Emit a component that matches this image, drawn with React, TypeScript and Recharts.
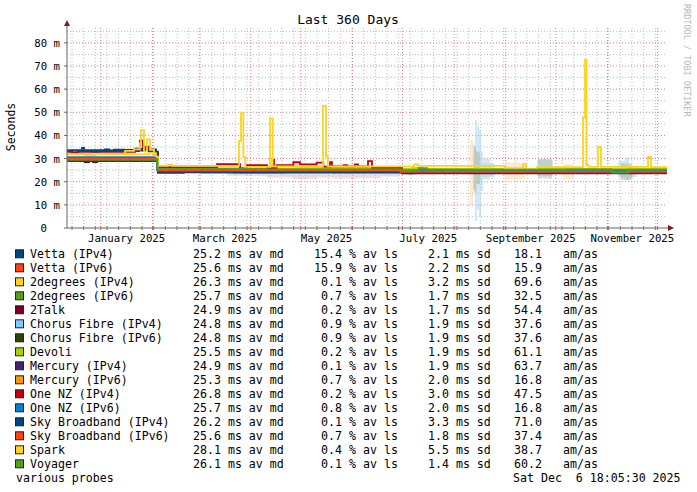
import { Area, CartesianGrid, ComposedChart, Line, XAxis, YAxis } from 'recharts';

type Pt = [number, number];
type Band = [number, number, number];

const FONT = '"DejaVu Sans Mono", monospace';

// x is days since Wed 11 Dec 2024 18:05 (360 days to Sat 6 Dec 2025)
const monthStarts = [20.25, 51.25, 79.25, 110.25, 140.25, 171.25, 201.25, 232.25, 263.25, 293.25, 324.25, 354.25];
const monthLabelDays = [35.75, 94.75, 155.75, 216.75, 278.25, 339.25];
const monthLabels = ['January 2025', 'March 2025', 'May 2025', 'July 2025', 'September 2025', 'November 2025'];
const yTicks = [0, 10, 20, 30, 40, 50, 60, 70, 80];
const yMajor = [10, 20, 30, 40, 50, 60, 70, 80];
const yMinor = [5, 15, 25, 35, 45, 55, 65, 75, 85];

const weekDays: number[] = [];
for (let d = 3; d < 360; d += 7) weekDays.push(d);

// median rtt, ms (step points)
const vettaV4: Pt[] = [[0, 33.6], [9, 34.6], [10.2, 33.6], [22.8, 34.0], [25.2, 33.5], [28.2, 33.9], [34.2, 33.2], [43.2, 33.9], [46.8, 34.8], [48.6, 33.6], [53.4, 33.0], [54.6, 24.6], [96, 24.4], [140, 24.8], [175, 24.3], [201, 23.9], [215, 24.2], [280, 24.0], [320, 24.3], [360, 24.3]];
const vettaV6: Pt[] = [[0, 29.9], [52.8, 30.4], [54.6, 24.9], [100, 25.1], [150, 24.8], [201, 24.4], [240, 24.1], [300, 23.9], [360, 23.9]];
const twoDegV4: Pt[] = [[0, 31.8], [10.8, 31.5], [16.8, 31.8], [49.2, 32.6], [52.2, 31.2], [54.6, 25.9], [110, 25.6], [160, 25.8], [201, 25.4], [360, 25.5]];
const twoDegV6: Pt[] = [[0, 29.5], [54.0, 25.4], [120, 25.2], [201, 25.0], [207, 25.8], [213, 25.1], [290, 25.3], [360, 25.2]];
const twoTalk: Pt[] = [[0, 29.0], [10.8, 28.5], [13.2, 29.0], [15.6, 28.5], [18, 29.0], [54.6, 24.3], [100, 24.0], [160, 24.4], [201, 24.0], [360, 24.1]];
const chorusV4: Pt[] = [[0, 30.3], [54.0, 24.7], [120, 24.9], [201, 24.6], [260, 24.8], [360, 24.7]];
const chorusV6: Pt[] = [[0, 29.1], [52.8, 29.3], [54.6, 24.1], [160, 24.3], [201, 24.1], [360, 24.2]];
const devoli: Pt[] = [[0, 29.7], [54.0, 25.6], [140, 25.8], [201, 25.5], [360, 25.4]];
const mercuryV4: Pt[] = [[0, 29.0], [54.6, 23.8], [70, 24.0], [160, 23.9], [201, 23.6], [360, 23.8]];
const mercuryV6: Pt[] = [[0, 30.0], [54.0, 25.2], [160, 25.4], [201, 24.9], [360, 24.9]];
const oneNzV4: Pt[] = [[0, 32.9], [3, 32.4], [6.6, 32.9], [40.8, 33.4], [42.6, 33.5], [43.8, 37.7], [45.6, 33.8], [46.8, 35.1], [49.2, 33.2], [53.4, 32.0], [54.6, 26.3], [90, 27.6], [103.8, 25.8], [108, 27.2], [120, 25.8], [123.4, 29.4], [124.2, 25.8], [125.8, 27.2], [135.8, 28.4], [139.8, 27.5], [149.8, 28.2], [153.8, 26.5], [157.8, 28.4], [159, 26.6], [166, 27.2], [168, 26.6], [172.8, 27.5], [174.6, 26.6], [180.6, 28.9], [183, 26.0], [201, 24.6], [360, 24.6]];
const oneNzV6: Pt[] = [[0, 30.6], [54.0, 25.0], [150, 25.1], [201, 24.5], [204, 23.6], [208, 25.0], [360, 25.0]];
const skyV4: Pt[] = [[0, 33.3], [15, 33.0], [19.8, 33.4], [30, 33.7], [40.8, 34.3], [45, 33.4], [51, 34.0], [53.4, 32.6], [54.6, 24.4], [80, 24.0], [130, 24.2], [201, 23.7], [222, 24.1], [300, 23.9], [360, 24.0]];
const skyV6: Pt[] = [[0, 29.8], [54.6, 24.8], [200, 24.3], [360, 24.1]];
const spark: Pt[] = [[0, 32.0], [34.8, 33.3], [40.2, 34.0], [43.8, 36.6], [44.4, 42.3], [46.2, 33.0], [48, 38.3], [49.8, 33.8], [52.2, 32.3], [53.4, 30.8], [54.6, 26.8], [60.6, 27.4], [63.0, 26.8], [103.2, 37.6], [104.4, 49.6], [105.8, 30.8], [107.0, 26.4], [121.8, 47.4], [123.4, 26.6], [153.6, 52.8], [155.4, 31.0], [156.4, 26.6], [208.2, 27.5], [210.6, 26.8], [262.8, 25.9], [273.6, 27.6], [275.4, 25.4], [282.0, 26.3], [309.6, 47.8], [310.8, 72.7], [311.8, 27.2], [313.0, 26.4], [318.6, 35.0], [320.4, 26.4], [348.6, 30.7], [350.4, 26.3], [360, 26.3]];
const voyager: Pt[] = [[0, 29.4], [53.4, 29.8], [54.3, 25.5], [120, 25.3], [201, 25.0], [211, 25.9], [216, 25.2], [300, 25.3], [327, 23.9], [337, 25.2], [360, 25.2]];

const names = ['Vetta (IPv4)', 'Vetta (IPv6)', '2degrees (IPv4)', '2degrees (IPv6)', '2Talk', 'Chorus Fibre (IPv4)', 'Chorus Fibre (IPv6)', 'Devoli', 'Mercury (IPv4)', 'Mercury (IPv6)', 'One NZ (IPv4)', 'One NZ (IPv6)', 'Sky Broadband (IPv4)', 'Sky Broadband (IPv6)', 'Spark', 'Voyager'];
const colors = ['#004586', '#ff420e', '#ffd320', '#579d1c', '#7e0021', '#83caff', '#314004', '#aecf00', '#4b1f6f', '#ff950e', '#c5000b', '#0084d1', '#004586', '#ff420e', '#ffd320', '#579d1c'];
const medians = ['25.2', '25.6', '26.3', '25.7', '24.9', '24.8', '24.8', '25.5', '24.9', '25.3', '26.8', '25.7', '26.2', '25.6', '28.1', '26.1'];
const losses = ['15.4', '15.9', '0.1', '0.7', '0.2', '0.9', '0.9', '0.2', '0.1', '0.7', '0.2', '0.8', '0.1', '0.7', '0.4', '0.1'];
const sds = ['2.1', '2.2', '3.2', '1.7', '1.7', '1.9', '1.9', '1.9', '1.9', '2.0', '3.0', '2.0', '3.3', '1.8', '5.5', '1.4'];
const amas = ['18.1', '15.9', '69.6', '32.5', '54.4', '37.6', '37.6', '61.1', '63.7', '16.8', '47.5', '16.8', '71.0', '37.4', '38.7', '60.2'];
const medianSeries = [vettaV4, vettaV6, twoDegV4, twoDegV6, twoTalk, chorusV4, chorusV6, devoli, mercuryV4, mercuryV6, oneNzV4, oneNzV6, skyV4, skyV6, spark, voyager];

// smoke: [day, low, high]
const smokeMid: Band[] = [[96, 22.6, 25], [120, 21.8, 25.5], [136, 21.2, 27.8], [150, 21.8, 26.8], [160, 21.4, 27.4], [175, 21.6, 26.8], [188, 22.2, 26.2], [200, 23, 25.6], [210, 25, 25], [360, 25, 25]];
const smokeBlue: Band[] = [[243.6, 17, 36], [244.8, 3, 46.5], [246.0, 8, 44], [247.2, 5, 42], [248.4, 16, 33], [249.6, 21, 30], [253.8, 22, 28], [256.8, 25, 25], [282.0, 22.5, 29.5], [291.6, 25, 25], [330.6, 22, 29], [334.8, 20.5, 30.5], [337.2, 22, 27], [342, 25, 25], [360, 25, 25]];
const smokeTan: Band[] = [[241.8, 10, 38], [243.6, 14, 34], [246, 19, 31], [249, 22, 28], [255, 25, 25], [262.8, 21, 28.3], [274.8, 25, 25], [297.6, 21, 27.8], [304.2, 25, 25], [331.2, 21, 26.5], [340, 25, 25], [360, 25, 25]];
const smokeGrey: Band[] = [[244.2, 16, 35], [245.4, 19, 33], [247.8, 25, 25], [282.6, 21.5, 29.8], [291, 25, 25], [332.4, 20.8, 28], [339, 25, 25], [360, 25, 25]];

const rows = (pts: Pt[]) => pts.map(([day, ms]) => ({ day, ms }));
const bands = (pts: Band[]) => pts.map(([day, lo, hi]) => ({ day, range: [lo, hi] }));

const xTicks = [...weekDays, ...monthStarts, ...monthLabelDays];

function XTick({ x, y, payload }: any) {
  const v = payload.value;
  const li = monthLabelDays.indexOf(v);
  if (li >= 0) {
    return (
      <text x={x} y={y + 14} textAnchor="middle" fontFamily={FONT} fontSize={10.7} fill="#000">
        {monthLabels[li]}
      </text>
    );
  }
  const major = monthStarts.includes(v);
  return <line x1={x} x2={x} y1={y - 2} y2={y + 2} stroke={major ? '#c06060' : '#777'} />;
}

function YTick({ x, y, payload }: any) {
  const v = payload.value;
  return (
    <g>
      <line x1={x - 3} x2={x} y1={y} y2={y} stroke="#666" />
      <text x={v === 0 ? x - 20 : x - 7} y={y + 4} textAnchor="end" fontFamily={FONT} fontSize={10.7} fill="#000">
        {v === 0 ? '0' : `${v} m`}
      </text>
    </g>
  );
}

export default function App() {
  return (
    <div style={{ position: 'absolute', left: 0, top: 0, width: 697, height: 492, background: '#fff' }}>
      <ComposedChart width={697} height={250} margin={{ top: 28, right: 30, bottom: 0, left: 0 }}>
        <CartesianGrid horizontalValues={yMinor} verticalValues={weekDays} stroke="#bdbdbd" strokeDasharray="1 2" />
        <CartesianGrid horizontalValues={yMajor} verticalValues={monthStarts} stroke="#e08080" strokeDasharray="1 2" />
        <XAxis type="number" dataKey="day" domain={[0, 360]} allowDataOverflow ticks={xTicks} interval={0}
          tickSize={0} tickMargin={0} height={22} axisLine={{ stroke: '#666' }} tickLine={false} tick={(p: any) => <XTick {...p} />} />
        <YAxis type="number" domain={[0, 86.4]} allowDataOverflow ticks={yTicks} interval={0} width={67}
          tickSize={0} tickMargin={0} axisLine={{ stroke: '#666' }} tickLine={false} tick={(p: any) => <YTick {...p} />} />
        <Area data={bands(smokeMid)} dataKey="range" type="stepAfter" stroke="none" fill="#d9b8c0" fillOpacity={0.5} isAnimationActive={false} />
        <Area data={bands(smokeTan)} dataKey="range" type="stepAfter" stroke="none" fill="#ffd9a8" fillOpacity={0.55} isAnimationActive={false} />
        <Area data={bands(smokeBlue)} dataKey="range" type="stepAfter" stroke="none" fill="#9fd2f5" fillOpacity={0.5} isAnimationActive={false} />
        <Area data={bands(smokeGrey)} dataKey="range" type="stepAfter" stroke="none" fill="#a9b49c" fillOpacity={0.45} isAnimationActive={false} />
        {medianSeries.map((pts, i) => (
          <Line key={names[i]} data={rows(pts)} dataKey="ms" type="stepAfter" stroke={colors[i]} strokeWidth={1.8}
            dot={false} activeDot={false} isAnimationActive={false} />
        ))}
      </ComposedChart>
      <svg width={697} height={492} style={{ position: 'absolute', left: 0, top: 0, pointerEvents: 'none' }}
        fontFamily={FONT}>
        <text x={348} y={23.5} textAnchor="middle" fontSize={13} fill="#000">Last 360 Days</text>
        <text transform="translate(15,127) rotate(-90)" textAnchor="middle" fontSize={11.5} fill="#000">Seconds</text>
        <text transform="translate(684,4) rotate(90)" fontSize={8.5} fill="#b8b8b8">RRDTOOL / TOBI OETIKER</text>
        <line x1={67} x2={67} y1={24} y2={28} stroke="#666" />
        <line x1={667} x2={669} y1={228} y2={228} stroke="#666" />
        <polygon points="64,26 67,20 70,26" fill="#7f1c1c" />
        <polygon points="668,225 674,228 668,231" fill="#7f1c1c" />
        {names.map((n, i) => {
          const by = 258.3 + 14 * i;
          return (
            <g key={n} fontSize={11.6} fill="#000">
              <rect x={15.5} y={by - 8.5} width={8} height={8} fill={colors[i]} stroke="#222" strokeWidth={1} />
              <text x={30} y={by}>{n}</text>
              <text x={193} y={by}>{`${medians[i]} ms av md`}</text>
              <text x={342} y={by} textAnchor="end">{losses[i]}</text>
              <text x={349} y={by}>% av ls</text>
              <text x={428} y={by}>{`${sds[i]} ms sd`}</text>
              <text x={514} y={by}>{amas[i]}</text>
              <text x={563} y={by}>am/as</text>
            </g>
          );
        })}
        <text x={16} y={482} fontSize={11.6} fill="#000">various probes</text>
        <text x={513} y={482} fontSize={11.6} fill="#000" xmlSpace="preserve" style={{ whiteSpace: 'pre' }}>Sat Dec  6 18:05:30 2025</text>
      </svg>
    </div>
  );
}
